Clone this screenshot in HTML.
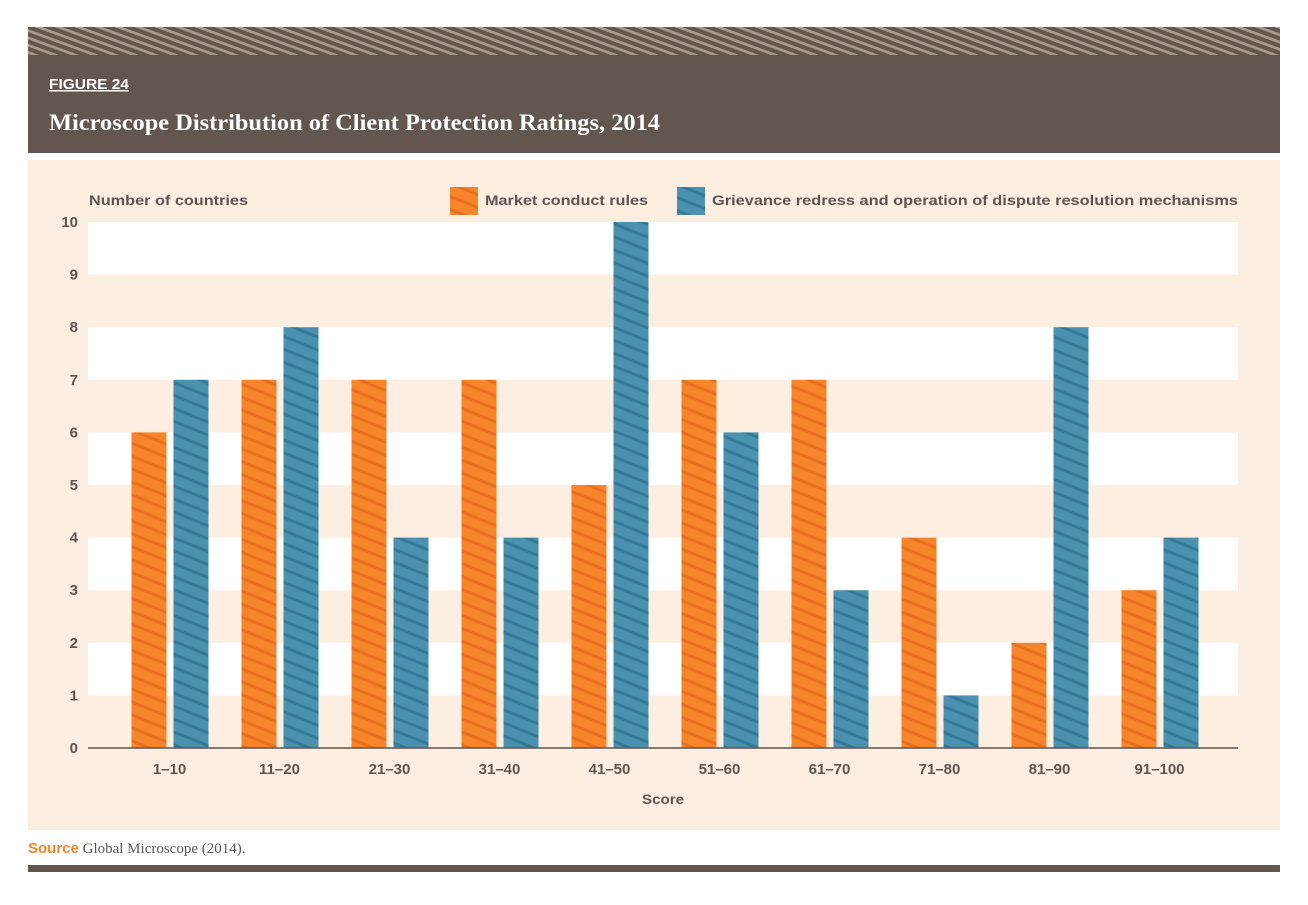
<!DOCTYPE html>
<html><head><meta charset="utf-8"><style>
body{margin:0;background:#fff;width:1308px;height:900px;overflow:hidden;font-family:"Liberation Sans",sans-serif}
</style></head><body>
<svg width="1308" height="900" xmlns="http://www.w3.org/2000/svg">
<defs>
<pattern id="hdr" width="20" height="28" patternUnits="userSpaceOnUse" patternTransform="skewX(70)">
<rect width="20" height="28" fill="#62564f"/><rect width="8" height="28" fill="#a8988a"/></pattern>
<pattern id="po" width="12" height="12" patternUnits="userSpaceOnUse" patternTransform="rotate(22)">
<rect width="12" height="12" fill="#f7852b"/><rect width="12" height="3" fill="#e8701f"/></pattern>
<pattern id="pb" width="12" height="12" patternUnits="userSpaceOnUse" patternTransform="rotate(22)">
<rect width="12" height="12" fill="#4b91b0"/><rect width="12" height="3" fill="#357a99"/></pattern>
</defs>
<rect x="28" y="27" width="1252" height="126" fill="#62564f"/>
<rect x="28" y="27" width="1252" height="28" fill="url(#hdr)"/>
<text x="49" y="89" fill="#fff" font-size="15" font-weight="bold" text-decoration="underline" textLength="80" lengthAdjust="spacingAndGlyphs">FIGURE 24</text>
<text x="49" y="130" fill="#fff" font-size="23" font-weight="bold" font-family="Liberation Serif, serif" textLength="611" lengthAdjust="spacingAndGlyphs">Microscope Distribution of Client Protection Ratings, 2014</text>
<rect x="28" y="160" width="1252" height="670" fill="#fdeee2"/>
<g id="grid"></g><g id="bars"></g><g id="axes"></g>
<text x="89" y="205" fill="#5f5550" font-size="14" font-weight="bold" textLength="159" lengthAdjust="spacingAndGlyphs">Number of countries</text>
<rect x="450" y="187" width="28" height="28" fill="url(#po)"/>
<text x="485" y="205" fill="#5f5550" font-size="14" font-weight="bold" textLength="163" lengthAdjust="spacingAndGlyphs">Market conduct rules</text>
<rect x="677" y="187" width="28" height="28" fill="url(#pb)"/>
<text x="712" y="205" fill="#5f5550" font-size="14" font-weight="bold" textLength="526" lengthAdjust="spacingAndGlyphs">Grievance redress and operation of dispute resolution mechanisms</text>
<text x="663" y="804" text-anchor="middle" fill="#5f5550" font-size="14" font-weight="bold" textLength="42" lengthAdjust="spacingAndGlyphs">Score</text>
<text x="28" y="853" font-size="15" fill="#5f5550" font-family="Liberation Serif, serif"><tspan fill="#f7852b" font-weight="bold" font-family="Liberation Sans, sans-serif">Source</tspan> Global Microscope (2014).</text>
<rect x="28" y="865" width="1252" height="7" fill="#62564f"/>
</svg>
<script>
const categories=["1–10","11–20","21–30","31–40","41–50","51–60","61–70","71–80","81–90","91–100"];
const marketValues=[6,7,7,7,5,7,7,4,2,3];
const grievanceValues=[7,8,4,4,10,6,3,1,8,4];
const yTicks=[0,1,2,3,4,5,6,7,8,9,10];
const NS="http://www.w3.org/2000/svg";
const X0=88,X1=1238,Y0=748,Y1=222;
const y=v=>Y0-(v/10)*(Y0-Y1);
const bw=110;
const cx=i=>114.5+bw*(i+0.5);
function mk(t,a,p){const e=document.createElementNS(NS,t);for(const k in a)e.setAttribute(k,a[k]);p.appendChild(e);return e;}
const grid=document.getElementById('grid'),bars=document.getElementById('bars'),axes=document.getElementById('axes');
for(let v=0;v<10;v++){
 const r=mk('rect',{x:X0,y:y(v+1),width:X1-X0,height:y(v)-y(v+1),fill:v%2?'#ffffff':'#fdeee2'},grid);
 
 
}
yTicks.forEach(v=>{
 const t=mk('text',{x:78,y:y(v)+5,'text-anchor':'end','font-size':15,'font-weight':'bold',fill:'#5f5550'},axes);
 t.textContent=v;
 
 
});
categories.forEach((c,i)=>{
 const a=mk('rect',{x:cx(i)-38,y:y(marketValues[i]),width:35,height:Y0-y(marketValues[i]),fill:'url(#po)'},bars);
 
 
 const b=mk('rect',{x:cx(i)+4,y:y(grievanceValues[i]),width:35,height:Y0-y(grievanceValues[i]),fill:'url(#pb)'},bars);
 
 
 const t=mk('text',{x:cx(i),y:774,'text-anchor':'middle','font-size':15,'font-weight':'bold',fill:'#5f5550'},axes);
 t.textContent=c;
 
 
});
const ax=mk('line',{x1:X0,x2:X1,y1:Y0,y2:Y0,stroke:'#5f5550','stroke-width':1.5},axes);


</script>
</body></html>
